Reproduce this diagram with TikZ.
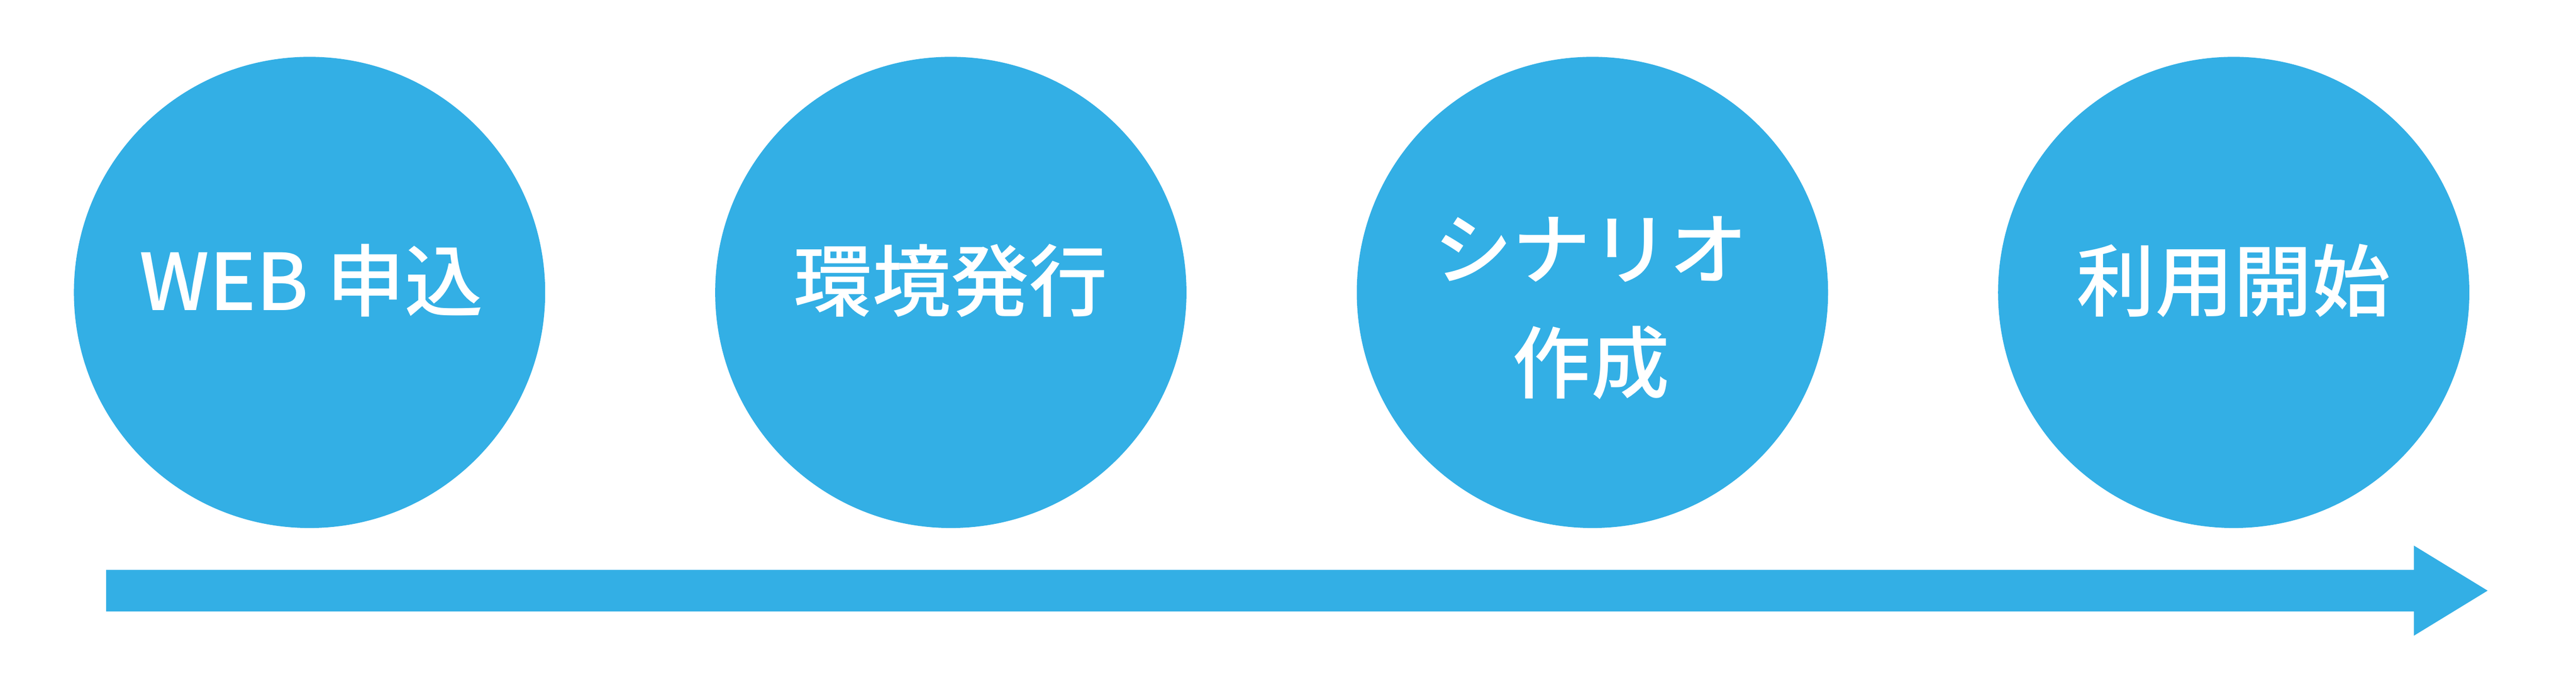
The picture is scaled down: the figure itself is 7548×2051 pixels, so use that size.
\documentclass[tikz,border=0pt]{standalone}
\usepackage{fontspec}
\setmainfont{Noto Sans CJK JP}[UprightFont=* Medium]
\definecolor{stepblue}{RGB}{51,175,229}
\tikzset{
  stepcircle/.style={circle, fill=stepblue, draw=none, minimum size=138.1pt, inner sep=0pt},
  steplabel/.style={text=white, font=\fontsize{23pt}{33.4pt}\selectfont, align=center, inner sep=0pt},
}
\begin{document}
\begin{tikzpicture}[x=0.1pt,y=-0.1pt]
\useasboundingbox (0,0) rectangle (7548,2051);
\fill[white] (0,0) rectangle (7548,2051);
% circles
\node[stepcircle] (c1) at (907,857) {};
\node[stepcircle] (c2) at (2786,857) {};
\node[stepcircle] (c3) at (4666,857) {};
\node[stepcircle] (c4) at (6545,857) {};
% labels
\node[steplabel] (t1) at (912,822) {WEB 申込};
\node[steplabel] (t2) at (2786,822) {環境発行};
\node[steplabel] (t3) at (4662,903) {シナリオ\\作成};
\node[steplabel] (t4) at (6545,822) {利用開始};
% timeline arrow
\fill[stepblue] (311,1670) -- (7073,1670) -- (7073,1599) -- (7289,1731)
  -- (7073,1863) -- (7073,1792) -- (311,1792) -- cycle;
\end{tikzpicture}
\end{document}
